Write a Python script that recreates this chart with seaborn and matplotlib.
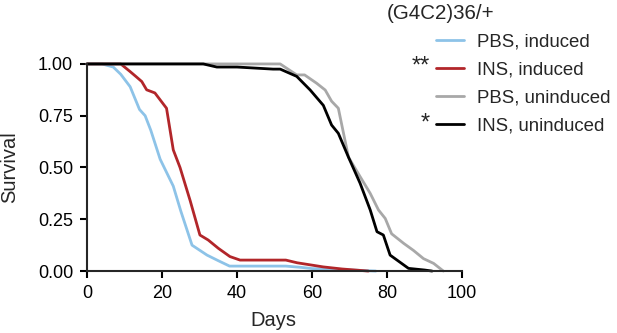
import matplotlib
matplotlib.use("Agg")
import matplotlib.pyplot as plt
import pandas as pd
import seaborn as sns

# Survival curves
pbs_ind_days = [0, 4, 7, 9, 11.5, 14, 15.5, 17, 19.5, 23, 25, 28, 32, 35, 38, 45, 53, 57, 60, 66, 72, 77]
pbs_ind_surv = [1.0, 1.0, 0.985, 0.95, 0.89, 0.78, 0.75, 0.68, 0.54, 0.41, 0.29, 0.125, 0.077, 0.05, 0.024, 0.024, 0.024, 0.018, 0.012, 0.008, 0.004, 0.0]

ins_ind_days = [0, 9, 11.5, 13, 14.6, 15.9, 18.1, 21.2, 23, 24.8, 27.5, 30.1, 32.3, 35, 38.1, 40.8, 53, 56, 59.5, 63, 68, 75]
ins_ind_surv = [1.0, 1.0, 0.963, 0.94, 0.915, 0.875, 0.86, 0.786, 0.585, 0.50, 0.34, 0.174, 0.15, 0.11, 0.07, 0.053, 0.053, 0.04, 0.03, 0.02, 0.01, 0.0]

pbs_un_days = [0, 51.5, 55.9, 58, 61.2, 63.5, 65.2, 67, 69.7, 72.8, 75.5, 77.7, 79.5, 81.2, 84.4, 87, 89.7, 92.4, 95]
pbs_un_surv = [1.0, 1.0, 0.947, 0.947, 0.907, 0.874, 0.82, 0.786, 0.55, 0.456, 0.375, 0.295, 0.254, 0.18, 0.134, 0.10, 0.06, 0.037, 0.0]

ins_un_days = [0, 31, 34.6, 40, 49.6, 51.5, 55.9, 59.5, 63, 65.2, 67, 69.7, 72.8, 75.5, 77.3, 79, 80.8, 85.7, 90, 92]
ins_un_surv = [1.0, 1.0, 0.985, 0.985, 0.975, 0.975, 0.94, 0.874, 0.80, 0.705, 0.665, 0.55, 0.424, 0.295, 0.19, 0.174, 0.077, 0.013, 0.005, 0.0]

labels = ["PBS, induced", "INS, induced", "PBS, uninduced", "INS, uninduced"]
colors = ["#8DC3E8", "#B2262A", "#A8A8A8", "#000000"]
stars = ["", "**", "", "*"]

frames = []
for lab, d, s in zip(labels,
                     [pbs_ind_days, ins_ind_days, pbs_un_days, ins_un_days],
                     [pbs_ind_surv, ins_ind_surv, pbs_un_surv, ins_un_surv]):
    frames.append(pd.DataFrame({"Days": d, "Survival": s, "Group": lab}))
df = pd.concat(frames, ignore_index=True)

sns.set_style("ticks")
plt.rcParams["font.family"] = ["Liberation Sans", "DejaVu Sans"]

fig = plt.figure(figsize=(6.17, 3.33), dpi=100)
ax = fig.add_axes([0.141, 0.186, 0.608, 0.622])

sns.lineplot(data=df, x="Days", y="Survival", hue="Group", hue_order=labels,
             palette=colors, linewidth=2, ax=ax, legend=False,
             estimator=None, sort=False)
for ln in ax.lines:
    ln.set_clip_on(False)

ax.set_xlim(0, 100)
ax.set_ylim(0, 1)
ax.set_xticks([0, 20, 40, 60, 80, 100])
ax.set_yticks([0, 0.25, 0.5, 0.75, 1.0])
ax.set_yticklabels(["0.00", "0.25", "0.50", "0.75", "1.00"])
ax.set_xlabel("Days", fontsize=14.5, va="center")
ax.set_ylabel("Survival", fontsize=14.5, va="center")
ax.xaxis.set_label_coords(0.497, -0.237)
ax.yaxis.set_label_coords(-0.205, 0.5)
ax.tick_params(labelsize=13, width=1.5, length=5, pad=5, direction="out", colors="black")
for sp in ["left", "bottom"]:
    ax.spines[sp].set_linewidth(1.5)
sns.despine(ax=ax)

handles = [plt.Line2D([], [], color=c, lw=2) for c in colors]
leg = fig.legend(handles, labels, loc="upper left", bbox_to_anchor=(0.706, 0.90),
                 frameon=False, fontsize=13.4, handlelength=1.5, handletextpad=0.75,
                 labelspacing=0.6, borderpad=0, borderaxespad=0)
fig.text(0.627, 0.96, "(G4C2)36/+", fontsize=14.8, va="center", ha="left")
for i, st in enumerate(stars):
    if st:
        fig.text(0.697, 1 - (67 + 28.5 * (i - 1)) / 333, st, fontsize=17,
                 va="center", ha="right")

fig.savefig("out.png", dpi=100)
